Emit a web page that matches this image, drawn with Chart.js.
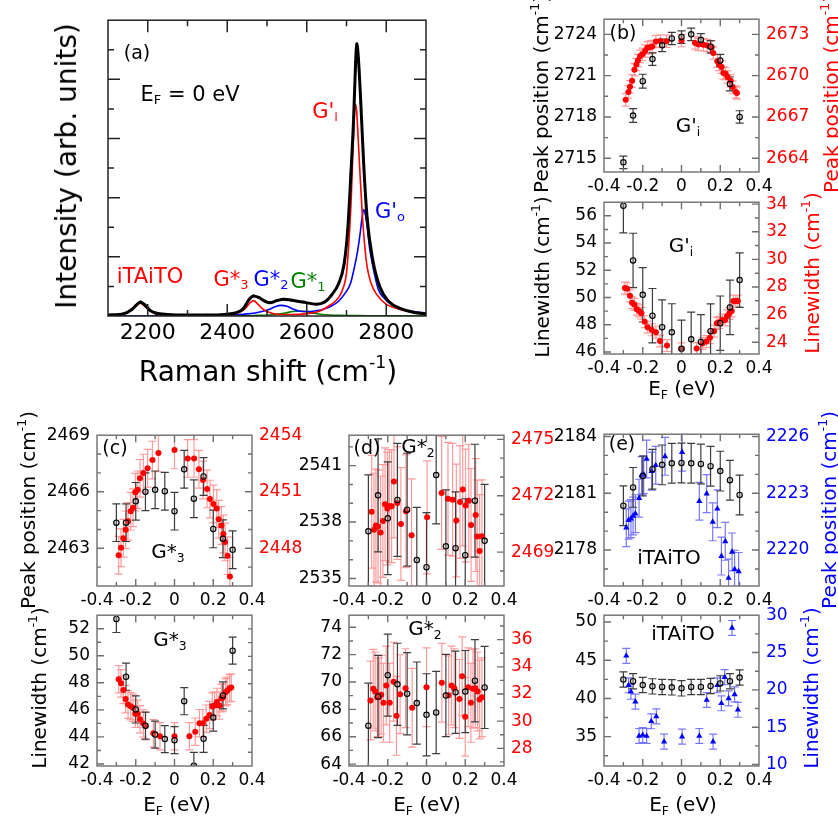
<!DOCTYPE html>
<html>
<head>
<meta charset="utf-8">
<title>Raman G' band vs Fermi level</title>
<script src="https://cdn.jsdelivr.net/npm/chart.js@4.4.1/dist/chart.umd.min.js"></script>
<style>
  html, body { margin: 0; padding: 0; background: #fff; }
  #fig { position: relative; width: 838px; height: 826px; overflow: hidden; font-family: 'DejaVu Sans', sans-serif; }
  #fig canvas { position: absolute; }
  .t { position: absolute; white-space: nowrap; line-height: 1; transform: translate(-50%, -50%); }
  .t.v { transform: translate(-50%, -50%) rotate(-90deg); }
  .t sub { font-size: 0.62em; vertical-align: -0.3em; }
  .t sup { font-size: 0.62em; vertical-align: 0.75em; }
</style>
</head>
<body>
<div id="fig"></div>
<script>
// ---- (a) spectrum at E_F = 0 ----
const ramanX = [2100,2140,2160,2170,2181,2192,2205,2220,2250,2300,2350,2400,2420,2440,2455,2466,2480,2495,2507,2525,2542,2560,2590,2625,2645,2662,2680,2694,2703,2711,2718,2723,2726,2730,2736,2743,2752,2766,2784,2807,2835,2870,2900];
const ramanI = [0.03,0.08,0.22,0.35,0.47,0.38,0.2,0.1,0.05,0.03,0.03,0.06,0.1,0.24,0.56,0.68,0.62,0.5,0.45,0.52,0.57,0.54,0.47,0.4,0.47,0.7,1.09,1.76,2.9,4.8,6.7,8.6,9.2,8.7,7.2,5.2,3.3,1.9,0.98,0.48,0.26,0.12,0.07];
const redFitX = [2100,2140,2160,2170,2181,2192,2205,2220,2250,2300,2350,2400,2425,2445,2458,2466,2475,2488,2500,2520,2560,2600,2630,2660,2680,2693,2700,2707,2712,2716,2719,2722,2725,2729,2734,2739,2745,2752,2762,2775,2798,2835,2870,2900];
const redFitI = [0.02,0.07,0.2,0.33,0.43,0.33,0.17,0.07,0.03,0.01,0.01,0.03,0.09,0.25,0.45,0.52,0.43,0.25,0.15,0.07,0.05,0.08,0.15,0.38,0.62,1.0,1.45,2.7,4.0,5.5,6.5,7.15,7.0,6.1,4.8,3.6,2.5,1.65,1.1,0.75,0.42,0.22,0.13,0.09];
const blueFitX = [2100,2300,2400,2440,2470,2490,2505,2520,2535,2550,2565,2580,2600,2620,2640,2660,2680,2697,2710,2720,2728,2734,2739,2743,2747,2752,2758,2765,2780,2795,2810,2844,2870,2900];
const blueFitI = [0,0.01,0.03,0.06,0.1,0.16,0.22,0.31,0.36,0.33,0.24,0.17,0.15,0.17,0.22,0.32,0.5,0.78,1.1,1.65,2.2,2.76,3.3,3.6,3.45,3.0,2.3,1.76,0.9,0.6,0.42,0.22,0.15,0.1];
const greenFitX = [2100,2400,2480,2520,2545,2565,2580,2595,2615,2640,2680,2750,2900];
const greenFitI = [0,0.005,0.02,0.05,0.1,0.15,0.17,0.15,0.1,0.05,0.02,0.01,0];

// ---- Fermi level of the black (open circle) series, same in every panel ----
const efBlack = [-0.3,-0.25,-0.2,-0.15,-0.1,-0.05,0,0.05,0.1,0.15,0.2,0.25,0.3];

// (b) G'_i
const bTopBlackY = [2714.7,2718.1,2720.6,2722.2,2723.2,2723.7,2723.8,2724.0,2723.6,2723.1,2722.1,2720.4,2718.0];
const bTopBlackErr = [0.45,0.5,0.5,0.45,0.45,0.45,0.45,0.45,0.45,0.45,0.45,0.5,0.45];
const bTopRedX = [-0.288,-0.274,-0.266,-0.255,-0.243,-0.233,-0.225,-0.214,-0.202,-0.188,-0.176,-0.163,-0.151,-0.132,-0.108,-0.077,0.0,0.07,0.087,0.113,0.133,0.156,0.164,0.185,0.194,0.207,0.216,0.228,0.237,0.254,0.264,0.28,0.286];
const bTopRedY = [2668.24,2668.81,2669.19,2669.62,2670.43,2670.81,2671.1,2671.4,2671.55,2671.79,2672.02,2672.07,2672.12,2672.48,2672.52,2672.5,2672.55,2672.38,2672.26,2672.24,2672.19,2672.07,2671.64,2671.05,2670.81,2670.62,2670.19,2670.14,2669.9,2669.62,2669.17,2668.81,2668.74];
const bBotBlackY = [56.74,52.72,50.2,48.66,47.82,47.44,46.24,46.93,46.74,47.53,48.11,49.27,51.28];
const bBotBlackErr = [2.0,2.0,2.0,2.0,2.0,2.1,2.1,2.0,2.0,2.0,2.0,2.0,2.0];
const bBotRedX = [-0.292,-0.28,-0.266,-0.255,-0.243,-0.231,-0.219,-0.207,-0.19,-0.175,-0.154,-0.132,-0.111,-0.075,0.0,0.078,0.108,0.128,0.147,0.168,0.182,0.194,0.211,0.225,0.235,0.247,0.259,0.268,0.28,0.29];
const bBotRedY = [27.92,27.88,27.36,26.86,26.74,26.39,26.27,26.1,25.49,25.09,24.9,24.73,24.09,23.76,23.53,23.55,23.91,24.05,24.33,24.8,25.37,25.44,25.61,25.61,25.91,26.08,26.27,26.98,26.98,26.98];

// (c) G*_3
const cTopBlackY = [2464.36,2464.36,2465.49,2466.0,2466.1,2466.03,2464.97,2467.19,2465.63,2466.81,2464.03,2463.51,2462.92];
const cTopBlackErr = [1.0,1.0,1.0,1.0,1.0,1.0,1.0,1.0,1.0,1.0,1.0,1.0,1.0];
const cTopRedX = [-0.288,-0.276,-0.264,-0.252,-0.24,-0.226,-0.214,-0.202,-0.19,-0.178,-0.161,-0.139,-0.114,-0.083,0.0,0.068,0.101,0.126,0.147,0.168,0.183,0.201,0.218,0.228,0.242,0.252,0.261,0.274,0.286];
const cTopRedY = [2447.63,2448.03,2448.53,2448.98,2449.43,2449.97,2450.15,2450.98,2451.1,2451.71,2451.99,2452.25,2452.68,2453.06,2453.22,2452.77,2452.77,2452.19,2451.62,2451.15,2450.61,2450.35,2450.11,2449.54,2449.21,2448.76,2448.34,2447.61,2446.5];
const cBotBlackY = [52.72,48.45,46.03,44.83,44.17,43.84,43.76,46.64,41.86,43.86,45.43,47.07,50.38];
const cBotBlackErr = [1.0,1.0,1.0,1.0,1.0,1.0,1.0,1.0,1.0,1.0,1.0,1.0,1.0];
const cBotRedX = [-0.288,-0.276,-0.264,-0.252,-0.24,-0.226,-0.214,-0.202,-0.19,-0.178,-0.161,-0.149,-0.109,-0.075,0.0,0.077,0.107,0.129,0.146,0.164,0.181,0.195,0.207,0.219,0.231,0.242,0.25,0.264,0.272,0.284,0.293];
const cBotRedY = [21.4,21.1,20.62,19.95,19.55,19.43,19.31,18.88,18.88,18.48,18.17,17.98,17.45,17.24,17.24,17.24,17.57,18.19,18.19,18.52,18.79,19.41,19.48,19.74,19.48,20.02,20.07,20.45,20.55,20.74,20.79];

// (d) G*_2
const dTopBlackY = [2537.51,2539.42,2538.2,2539.18,2538.66,2535.98,2535.6,2540.5,2536.71,2536.61,2536.24,2539.14,2537.0];
const dTopBlackErr = [3.0,3.0,3.0,3.0,3.0,2.8,2.9,2.6,3.0,3.0,3.0,3.0,3.0];
const dTopRedX = [-0.283,-0.271,-0.261,-0.25,-0.237,-0.225,-0.214,-0.202,-0.192,-0.18,-0.168,-0.151,-0.132,-0.106,-0.077,0.003,0.078,0.111,0.135,0.154,0.173,0.187,0.202,0.218,0.23,0.254,0.262,0.274,0.286];
const dTopRedY = [2471.15,2470.19,2470.42,2470.36,2470.05,2470.66,2471.55,2471.32,2471.46,2471.44,2472.76,2471.61,2470.5,2471.18,2469.9,2470.85,2472.15,2471.84,2471.79,2470.68,2471.67,2472.33,2471.48,2471.74,2470.45,2470.97,2469.83,2469.06,2469.84];
const dBotBlackY = [66.81,68.94,70.5,69.83,69.14,68.46,67.6,67.77,69.01,69.25,69.3,70.09,69.6];
const dBotBlackErr = [3.1,3.0,3.0,3.0,3.0,3.0,3.0,3.0,3.0,3.0,3.0,3.0,3.0];
const dBotRedX = [-0.289,-0.275,-0.265,-0.254,-0.244,-0.234,-0.222,-0.208,-0.19,-0.17,-0.155,-0.136,-0.108,-0.074,0.0,0.079,0.114,0.129,0.143,0.17,0.184,0.2,0.215,0.229,0.24,0.252,0.264,0.274,0.286];
const dBotRedY = [31.52,32.38,32.19,31.76,31.76,31.95,31.35,32.62,31.35,32.91,30.39,31.99,32.43,30.99,32.5,32.83,31.9,32.62,32.43,31.64,33.31,30.32,32.5,31.35,32.38,32.43,32.19,31.59,31.76];

// (e) iTAiTO
const eTopBlackY = [2180.34,2181.31,2181.91,2182.27,2182.5,2182.58,2182.6,2182.58,2182.55,2182.43,2182.17,2181.69,2180.91];
const eTopBlackErr = [1.05,1.05,1.05,1.05,1.05,1.05,1.05,1.05,1.05,1.05,1.05,1.05,1.05];
const eTopBlueX = [-0.285,-0.273,-0.261,-0.25,-0.238,-0.219,-0.206,-0.195,-0.18,-0.154,-0.133,-0.085,0.003,0.092,0.13,0.161,0.185,0.206,0.226,0.243,0.261,0.274,0.295];
const eTopBlueY = [2221.18,2221.58,2221.66,2221.8,2221.92,2222.74,2223.94,2223.98,2224.81,2224.17,2224.48,2224.95,2225.17,2222.58,2222.98,2221.49,2222.18,2219.68,2220.46,2218.52,2219.9,2218.99,2218.87];
const eBotBlackY = [42.48,42.26,41.75,41.58,41.5,41.45,41.32,41.5,41.5,41.62,41.97,42.26,42.73];
const eBotBlackErr = [1.0,1.0,1.0,1.0,1.0,1.0,1.0,1.0,1.0,1.0,1.0,1.0,1.0];
const eBotBlueX = [-0.285,-0.273,-0.261,-0.238,-0.219,-0.2,-0.18,-0.156,-0.13,-0.09,0.003,0.092,0.13,0.163,0.185,0.206,0.223,0.243,0.261,0.274,0.291];
const eBotBlueY = [24.56,20.61,19.74,18.42,13.82,13.95,13.82,15.79,16.45,13.07,13.73,13.82,18.64,13.07,20.61,18.2,21.71,18.86,28.29,19.39,17.33];

const FONT = "'DejaVu Sans', sans-serif";
Chart.defaults.font.family = FONT;
const fig = document.getElementById('fig');

const onStep = (v, s) => Math.abs(v / s - Math.round(v / s)) < 1e-6;
const intLabel = v => String(Math.round(v));
const efLabel = v => Math.abs(v) < 1e-9 ? '0' : v.toFixed(1);
const pts = (xs, ys) => xs.map((x, i) => ({ x: x, y: ys[i] }));

// error bars, drawn behind the markers
const errorBars = {
  id: 'errorBars',
  beforeDatasetsDraw(chart) {
    const { ctx, chartArea: a } = chart;
    ctx.save();
    ctx.beginPath();
    ctx.rect(a.left, a.top, a.right - a.left, a.bottom - a.top);
    ctx.clip();
    chart.data.datasets.slice().reverse().forEach(ds => {
      if (ds.errY === undefined) return;
      const xs = chart.scales.x, ys = chart.scales[ds.yAxisID];
      ctx.strokeStyle = ds.errColor;
      ctx.lineWidth = 1.2;
      ctx.beginPath();
      ds.data.forEach((p, i) => {
        const e = Array.isArray(ds.errY) ? ds.errY[i] : ds.errY;
        const px = xs.getPixelForValue(p.x), c = ds.errCap;
        const lo = ys.getPixelForValue(p.y - e), hi = ys.getPixelForValue(p.y + e);
        ctx.moveTo(px, lo); ctx.lineTo(px, hi);
        ctx.moveTo(px - c, lo); ctx.lineTo(px + c, lo);
        ctx.moveTo(px - c, hi); ctx.lineTo(px + c, hi);
        if (ds.errX) {
          const py = ys.getPixelForValue(p.y);
          ctx.moveTo(xs.getPixelForValue(p.x - ds.errX), py);
          ctx.lineTo(xs.getPixelForValue(p.x + ds.errX), py);
        }
      });
      ctx.stroke();
    });
    ctx.restore();
  }
};

// box around the plot with inward ticks on every side
const frame = {
  id: 'frame',
  afterDatasetsDraw(chart, args, o) {
    const { ctx, chartArea: a } = chart;
    const inside = (p, lo, hi) => p > lo + 1 && p < hi - 1;
    ctx.save();
    ctx.strokeStyle = o.color;
    ctx.lineWidth = o.width;
    ctx.beginPath();
    const xs = chart.scales.x;
    xs.ticks.forEach(t => {
      const p = xs.getPixelForValue(t.value);
      if (!inside(p, a.left, a.right)) return;
      const len = onStep(t.value, o.xMajor) ? o.major : o.minor;
      ctx.moveTo(p, a.bottom); ctx.lineTo(p, a.bottom - len);
      ctx.moveTo(p, a.top); ctx.lineTo(p, a.top + len);
    });
    const yl = chart.scales.y, yr = chart.scales.y2;
    yl.ticks.forEach(t => {
      const p = yl.getPixelForValue(t.value);
      if (!inside(p, a.top, a.bottom)) return;
      const len = onStep(t.value, o.yMajor) ? o.major : o.minor;
      ctx.moveTo(a.left, p); ctx.lineTo(a.left + len, p);
      if (!yr) { ctx.moveTo(a.right, p); ctx.lineTo(a.right - len, p); }
    });
    if (yr) {
      yr.ticks.forEach(t => {
        const p = yr.getPixelForValue(t.value);
        if (!inside(p, a.top, a.bottom)) return;
        const len = onStep(t.value, o.y2Major) ? o.major : o.minor;
        ctx.moveTo(a.right, p); ctx.lineTo(a.right - len, p);
      });
    }
    ctx.stroke();
    ctx.strokeRect(a.left, a.top, a.right - a.left, a.bottom - a.top);
    ctx.restore();
  }
};
Chart.register(errorBars, frame);

function axis(position, min, max, step, labelStep, fmt, color, size, fit) {
  return {
    type: 'linear', position: position, min: min, max: max,
    grid: { display: false, drawTicks: false },
    border: { display: false },
    ticks: {
      stepSize: step, includeBounds: false, autoSkip: false,
      maxRotation: 0, minRotation: 0, padding: position === 'bottom' ? 4 : 7,
      color: color, font: { family: FONT, size: size },
      callback: v => onStep(v, labelStep) ? fmt(v) : ''
    },
    afterFit: s => { if (position === 'bottom') s.height = fit; else s.width = fit; }
  };
}

// box = [left, top, right, bottom] of the plot area in page pixels; m = [left, right, top, bottom] margins
function makeChart(box, m, scales, datasets, frameOpt) {
  const cv = document.createElement('canvas');
  const w = box[2] - box[0] + m[0] + m[1];
  const h = box[3] - box[1] + m[2] + m[3];
  cv.width = w; cv.height = h;
  cv.style.width = w + 'px'; cv.style.height = h + 'px';
  cv.style.left = (box[0] - m[0]) + 'px';
  cv.style.top = (box[1] - m[2]) + 'px';
  fig.appendChild(cv);
  return new Chart(cv, {
    type: 'scatter',
    data: { datasets: datasets },
    options: {
      responsive: false, animation: false, events: [],
      layout: { padding: { top: m[2], right: scales.y2 ? 0 : m[1], bottom: 0, left: 0 } },
      plugins: { legend: { display: false }, tooltip: { enabled: false }, frame: frameOpt },
      scales: scales
    }
  });
}

function blackSet(ys, err) {
  return { data: pts(efBlack, ys), yAxisID: 'y', pointRadius: 2.7, pointBorderWidth: 1.1,
    pointBorderColor: '#000', pointBackgroundColor: 'rgba(150,150,150,0.35)',
    errY: err, errColor: '#3c3c3c', errCap: 4 };
}
function redSet(xs, ys, err) {
  return { data: pts(xs, ys), yAxisID: 'y2', pointRadius: 3, pointBorderWidth: 0,
    pointBackgroundColor: '#ff0000', errY: err, errX: 0.016,
    errColor: 'rgba(255,30,30,0.45)', errCap: 4 };
}
function blueSet(xs, ys, err) {
  return { data: pts(xs, ys), yAxisID: 'y2', pointStyle: 'triangle', pointRadius: 3.6,
    pointBorderWidth: 0, pointBackgroundColor: '#0000ff',
    errY: err, errColor: 'rgba(30,30,255,0.6)', errCap: 4 };
}
function lineSet(xs, ys, color, width, dot) {
  return { data: pts(xs, ys), yAxisID: 'y', showLine: true, borderColor: color, borderWidth: width,
    pointRadius: dot, pointBackgroundColor: color, pointBorderWidth: 0,
    cubicInterpolationMode: 'monotone' };
}

// (a)
const mA = [40, 20, 17, 42];
makeChart([108, 17, 426, 316], mA, {
  x: axis('bottom', 2100, 2900, 100, 200, intLabel, '#000', 22, mA[3]),
  y: axis('left', 0, 10, 1, 2, () => '', '#000', 22, mA[0])
}, [
  lineSet(ramanX, ramanI, '#000', 3, 1.4),
  lineSet(redFitX, redFitI, '#ff0000', 1.6, 0),
  lineSet(blueFitX, blueFitI, '#0000ff', 1.6, 0),
  lineSet(greenFitX, greenFitI, '#008000', 1.6, 0)
], { color: '#222', width: 1.5, major: 12, minor: 6, xMajor: 200, yMajor: 2 });

// small panels: left/right = [min, max, tick step, label step]
function smallPanel(box, left, right, colour, sets) {
  const m = [62, 60, 14, 30];
  return makeChart(box, m, {
    x: axis('bottom', -0.4, 0.4, 0.1, 0.2, efLabel, '#000', 17, m[3]),
    y: axis('left', left[0], left[1], left[2], left[3], intLabel, '#000', 17, m[0]),
    y2: axis('right', right[0], right[1], right[2], right[3], intLabel, colour, 17, m[1])
  }, sets, { color: '#6e6e6e', width: 1.4, major: 7, minor: 4, xMajor: 0.2, yMajor: left[3], y2Major: right[3] });
}

smallPanel([604, 16, 759, 172], [2714, 2725.1, 1.5, 3], [2663, 2674.1, 1.5, 3], '#ff0000',
  [blackSet(bTopBlackY, bTopBlackErr), redSet(bTopRedX, bTopRedY, 0.45)]);
smallPanel([604, 199, 759, 354], [45.85, 57, 1, 2], [23.15, 34.14, 1, 2], '#ff0000',
  [blackSet(bBotBlackY, bBotBlackErr), redSet(bBotRedX, bBotRedY, 0.43)]);
smallPanel([97, 432, 252, 586], [2461, 2469, 1, 3], [2446, 2454, 1, 3], '#ff0000',
  [blackSet(cTopBlackY, cTopBlackErr), redSet(cTopRedX, cTopRedY, 1.0)]);
smallPanel([97, 612, 252, 766], [41.85, 53, 1, 2], [15.07, 26.07, 1, 2], '#ff0000',
  [blackSet(cBotBlackY, cBotBlackErr), redSet(cBotRedX, cBotRedY, 1.0)]);
smallPanel([349, 432, 504, 586], [2534.6, 2542.62, 1, 3], [2467.2, 2475.22, 1, 3], '#ff0000',
  [blackSet(dTopBlackY, dTopBlackErr), redSet(dTopRedX, dTopRedY, 3.0)]);
smallPanel([349, 612, 504, 766], [63.86, 74.88, 1, 2], [26.7, 37.8, 1, 2], '#ff0000',
  [blackSet(dBotBlackY, dBotBlackErr), redSet(dBotRedX, dBotRedY, 2.9)]);
smallPanel([604, 431, 759, 586], [2176.1, 2184.12, 1, 3], [2218.1, 2226.12, 1, 3], '#0000ff',
  [blackSet(eTopBlackY, eTopBlackErr), blueSet(eTopBlueX, eTopBlueY, 1.0)]);
smallPanel([604, 612, 759, 766], [31.15, 50.9, 2.5, 5], [9.8, 30, 2.5, 5], '#0000ff',
  [blackSet(eBotBlackY, eBotBlackErr), blueSet(eBotBlueX, eBotBlueY, 1.0)]);

// titles and annotations: [html, centre x, centre y, size, colour, vertical]
const PP = 'Peak position (cm<sup>-1</sup>)', LW = 'Linewidth (cm<sup>-1</sup>)', EF = 'E<sub>F</sub> (eV)';
const texts = [
  ['Intensity (arb. units)', 67, 166, 28, '#000', true],
  ['Raman shift (cm<sup>-1</sup>)', 268, 370, 28, '#000', false],
  ['(a)', 137, 52, 19, '#000', false],
  ['E<sub>F</sub> = 0 eV', 190, 95, 21, '#000', false],
  ["G'<sub>i</sub>", 325, 112, 21, '#ff0000', false],
  ["G'<sub>o</sub>", 390, 212, 21, '#0000ff', false],
  ['iTAiTO', 150, 276, 21, '#ff0000', false],
  ['G*<sub>3</sub>', 231, 280, 21, '#ff0000', false],
  ['G*<sub>2</sub>', 271, 280, 21, '#0000ff', false],
  ['G*<sub>1</sub>', 308, 282, 21, '#008000', false],

  [PP, 540, 94, 20, '#000', true],
  [LW, 541, 277, 20, '#000', true],
  [PP, 830, 94, 20, '#ff0000', true],
  [LW, 811, 273, 20, '#ff0000', true],
  ['(b)', 623, 32, 19, '#000', false],
  ["G'<sub>i</sub>", 688, 127, 20, '#000', false],
  ["G'<sub>i</sub>", 681, 247, 20, '#000', false],
  [EF, 682, 390, 20, '#000', false],

  [PP, 27, 510, 20, '#000', true],
  [LW, 38, 688, 20, '#000', true],
  ['(c)', 115, 447, 19, '#000', false],
  ['G*<sub>3</sub>', 168, 553, 20, '#000', false],
  ['G*<sub>3</sub>', 170, 641, 20, '#000', false],
  [EF, 177, 806, 20, '#000', false],

  ['(d)', 367, 447, 19, '#000', false],
  ['G*<sub>2</sub>', 418, 448, 20, '#000', false],
  ['G*<sub>2</sub>', 425, 630, 20, '#000', false],
  [EF, 427, 806, 20, '#000', false],

  ['(e)', 622, 443, 19, '#000', false],
  ['iTAiTO', 669, 557, 20, '#000', false],
  ['iTAiTO', 683, 633, 20, '#000', false],
  [PP, 828, 510, 20, '#0000ff', true],
  [LW, 810, 688, 20, '#0000ff', true],
  [EF, 683, 806, 20, '#000', false]
];
texts.forEach(([html, x, y, size, color, vert]) => {
  const d = document.createElement('div');
  d.className = vert ? 't v' : 't';
  d.innerHTML = html;
  d.style.left = x + 'px';
  d.style.top = y + 'px';
  d.style.fontSize = size + 'px';
  d.style.color = color;
  fig.appendChild(d);
});
</script>
</body>
</html>
